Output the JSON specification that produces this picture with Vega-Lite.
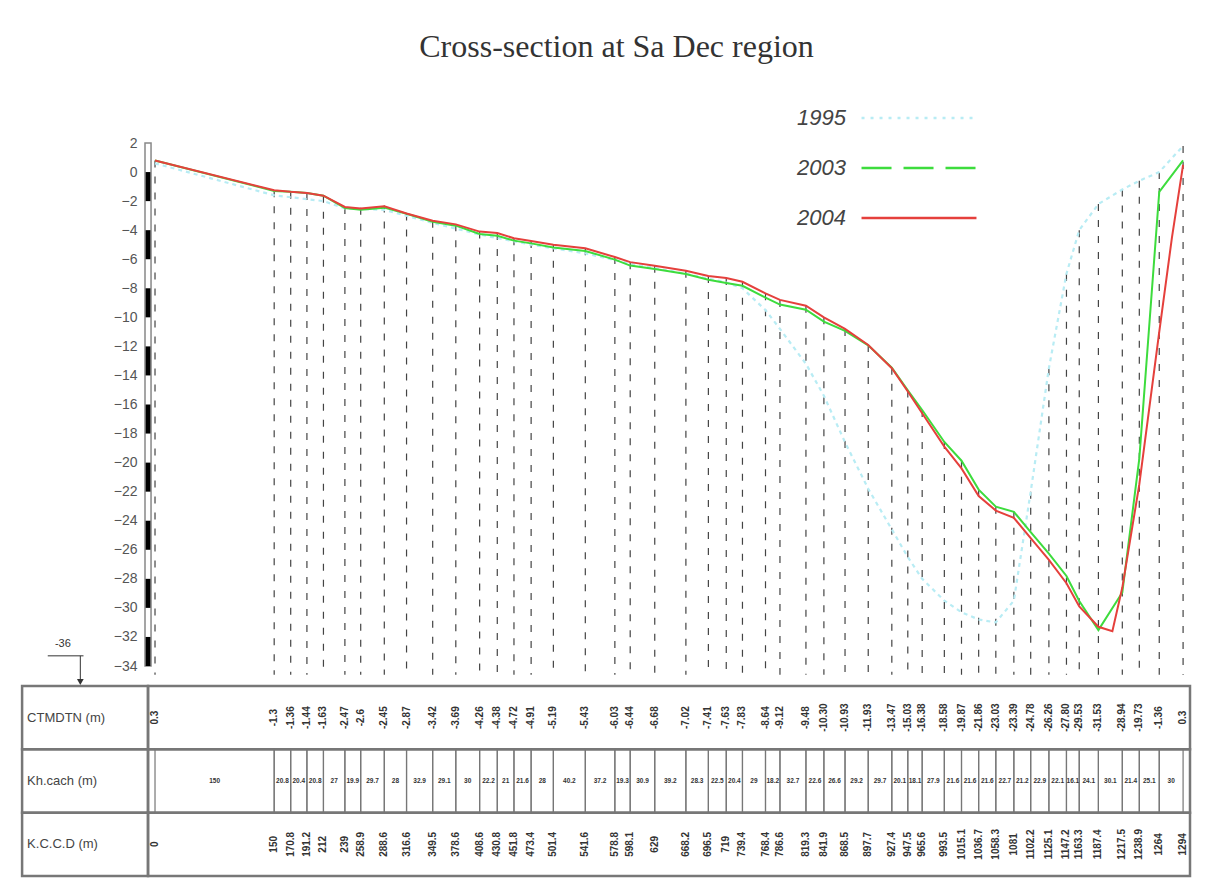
{
"$schema": "https://vega.github.io/schema/vega-lite/v6.json",
"width": 1045, "height": 733,
"autosize": {"type": "none"},
"padding": {"left": 145, "top": 143, "right": 24, "bottom": 2},
"background": "white",
"config": {"view": {"stroke": null}, "font": "Liberation Sans"},
"title": {"text": "Cross-section at Sa Dec region", "font": "Liberation Serif", "fontSize": 32, "fontWeight": "normal", "color": "#333", "anchor": "middle", "dx": -51, "offset": 38},
"datasets": {
"stations": [
{"d":0,"c":"0.3","k":"0","top":0.8},
{"d":150,"c":"-1.3","k":"150","top":-1.25},
{"d":170.8,"c":"-1.36","k":"170.8","top":-1.36},
{"d":191.2,"c":"-1.44","k":"191.2","top":-1.44},
{"d":212,"c":"-1.63","k":"212","top":-1.63},
{"d":239,"c":"-2.47","k":"239","top":-2.4},
{"d":258.9,"c":"-2.6","k":"258.9","top":-2.45},
{"d":288.6,"c":"-2.45","k":"288.6","top":-2.3},
{"d":316.6,"c":"-2.87","k":"316.6","top":-2.85},
{"d":349.5,"c":"-3.42","k":"349.5","top":-3.35},
{"d":378.6,"c":"-3.69","k":"378.6","top":-3.6},
{"d":408.6,"c":"-4.26","k":"408.6","top":-4.1},
{"d":430.8,"c":"-4.38","k":"430.8","top":-4.2},
{"d":451.8,"c":"-4.72","k":"451.8","top":-4.55},
{"d":473.4,"c":"-4.91","k":"473.4","top":-4.75},
{"d":501.4,"c":"-5.19","k":"501.4","top":-5.0},
{"d":541.6,"c":"-5.43","k":"541.6","top":-5.25},
{"d":578.8,"c":"-6.03","k":"578.8","top":-5.85},
{"d":598.1,"c":"-6.44","k":"598.1","top":-6.2},
{"d":629,"c":"-6.68","k":"629","top":-6.45},
{"d":668.2,"c":"-7.02","k":"668.2","top":-6.8},
{"d":696.5,"c":"-7.41","k":"696.5","top":-7.15},
{"d":719,"c":"-7.63","k":"719","top":-7.3},
{"d":739.4,"c":"-7.83","k":"739.4","top":-7.55},
{"d":768.4,"c":"-8.64","k":"768.4","top":-8.35},
{"d":786.6,"c":"-9.12","k":"786.6","top":-8.8},
{"d":819.3,"c":"-9.48","k":"819.3","top":-9.2},
{"d":841.9,"c":"-10.30","k":"841.9","top":-10.0},
{"d":868.5,"c":"-10.93","k":"868.5","top":-10.8},
{"d":897.7,"c":"-11.93","k":"897.7","top":-11.9},
{"d":927.4,"c":"-13.47","k":"927.4","top":-13.47},
{"d":947.5,"c":"-15.03","k":"947.5","top":-15.03},
{"d":965.6,"c":"-16.38","k":"965.6","top":-16.38},
{"d":993.5,"c":"-18.58","k":"993.5","top":-18.58},
{"d":1015.1,"c":"-19.87","k":"1015.1","top":-19.87},
{"d":1036.7,"c":"-21.86","k":"1036.7","top":-21.86},
{"d":1058.3,"c":"-23.03","k":"1058.3","top":-23.03},
{"d":1081,"c":"-23.39","k":"1081","top":-23.39},
{"d":1102.2,"c":"-24.78","k":"1102.2","top":-22},
{"d":1125.1,"c":"-26.26","k":"1125.1","top":-13.5},
{"d":1147.2,"c":"-27.80","k":"1147.2","top":-7},
{"d":1163.3,"c":"-29.53","k":"1163.3","top":-4},
{"d":1187.4,"c":"-31.53","k":"1187.4","top":-2.2},
{"d":1217.5,"c":"-28.94","k":"1217.5","top":-1.2},
{"d":1238.9,"c":"-19.73","k":"1238.9","top":-0.6},
{"d":1264,"c":"-1.36","k":"1264","top":0},
{"d":1294,"c":"0.3","k":"1294","top":1.8}
],
"spans": [
{"from":0,"to":150,"mid":75,"len":"150"},
{"from":150,"to":170.8,"mid":160.4,"len":"20.8"},
{"from":170.8,"to":191.2,"mid":181,"len":"20.4"},
{"from":191.2,"to":212,"mid":201.6,"len":"20.8"},
{"from":212,"to":239,"mid":225.5,"len":"27"},
{"from":239,"to":258.9,"mid":248.95,"len":"19.9"},
{"from":258.9,"to":288.6,"mid":273.75,"len":"29.7"},
{"from":288.6,"to":316.6,"mid":302.6,"len":"28"},
{"from":316.6,"to":349.5,"mid":333.05,"len":"32.9"},
{"from":349.5,"to":378.6,"mid":364.05,"len":"29.1"},
{"from":378.6,"to":408.6,"mid":393.6,"len":"30"},
{"from":408.6,"to":430.8,"mid":419.7,"len":"22.2"},
{"from":430.8,"to":451.8,"mid":441.3,"len":"21"},
{"from":451.8,"to":473.4,"mid":462.6,"len":"21.6"},
{"from":473.4,"to":501.4,"mid":487.4,"len":"28"},
{"from":501.4,"to":541.6,"mid":521.5,"len":"40.2"},
{"from":541.6,"to":578.8,"mid":560.2,"len":"37.2"},
{"from":578.8,"to":598.1,"mid":588.45,"len":"19.3"},
{"from":598.1,"to":629,"mid":613.55,"len":"30.9"},
{"from":629,"to":668.2,"mid":648.6,"len":"39.2"},
{"from":668.2,"to":696.5,"mid":682.35,"len":"28.3"},
{"from":696.5,"to":719,"mid":707.75,"len":"22.5"},
{"from":719,"to":739.4,"mid":729.2,"len":"20.4"},
{"from":739.4,"to":768.4,"mid":753.9,"len":"29"},
{"from":768.4,"to":786.6,"mid":777.5,"len":"18.2"},
{"from":786.6,"to":819.3,"mid":802.95,"len":"32.7"},
{"from":819.3,"to":841.9,"mid":830.6,"len":"22.6"},
{"from":841.9,"to":868.5,"mid":855.2,"len":"26.6"},
{"from":868.5,"to":897.7,"mid":883.1,"len":"29.2"},
{"from":897.7,"to":927.4,"mid":912.55,"len":"29.7"},
{"from":927.4,"to":947.5,"mid":937.45,"len":"20.1"},
{"from":947.5,"to":965.6,"mid":956.55,"len":"18.1"},
{"from":965.6,"to":993.5,"mid":979.55,"len":"27.9"},
{"from":993.5,"to":1015.1,"mid":1004.3,"len":"21.6"},
{"from":1015.1,"to":1036.7,"mid":1025.9,"len":"21.6"},
{"from":1036.7,"to":1058.3,"mid":1047.5,"len":"21.6"},
{"from":1058.3,"to":1081,"mid":1069.65,"len":"22.7"},
{"from":1081,"to":1102.2,"mid":1091.6,"len":"21.2"},
{"from":1102.2,"to":1125.1,"mid":1113.65,"len":"22.9"},
{"from":1125.1,"to":1147.2,"mid":1136.15,"len":"22.1"},
{"from":1147.2,"to":1163.3,"mid":1155.25,"len":"16.1"},
{"from":1163.3,"to":1187.4,"mid":1175.35,"len":"24.1"},
{"from":1187.4,"to":1217.5,"mid":1202.45,"len":"30.1"},
{"from":1217.5,"to":1238.9,"mid":1228.2,"len":"21.4"},
{"from":1238.9,"to":1264,"mid":1251.45,"len":"25.1"},
{"from":1264,"to":1294,"mid":1279,"len":"30"}
],
"rows": [{"row":"CTMDTN (m)"},{"row":"Kh.cach (m)"},{"row":"K.C.C.D (m)"}],
"bar": [{"a":0,"b":-2},{"a":-4,"b":-6},{"a":-8,"b":-10},{"a":-12,"b":-14},{"a":-16,"b":-18},{"a":-20,"b":-22},{"a":-24,"b":-26},{"a":-28,"b":-30},{"a":-32,"b":-34}],
"profiles": [
{"year":"1995","d":0,"z":0.6},{"year":"1995","d":150,"z":-1.6},{"year":"1995","d":212,"z":-2.0},{"year":"1995","d":239,"z":-2.5},{"year":"1995","d":288.6,"z":-2.6},{"year":"1995","d":349.5,"z":-3.5},{"year":"1995","d":408.6,"z":-4.3},{"year":"1995","d":473.4,"z":-5.0},{"year":"1995","d":541.6,"z":-5.6},{"year":"1995","d":598.1,"z":-6.3},{"year":"1995","d":668.2,"z":-7.0},{"year":"1995","d":719,"z":-7.6},{"year":"1995","d":739.4,"z":-8.0},{"year":"1995","d":768.4,"z":-9.5},{"year":"1995","d":786.6,"z":-10.8},{"year":"1995","d":819.3,"z":-13.2},{"year":"1995","d":841.9,"z":-15.4},{"year":"1995","d":868.5,"z":-18.6},{"year":"1995","d":897.7,"z":-21.8},{"year":"1995","d":927.4,"z":-24.6},{"year":"1995","d":947.5,"z":-26.5},{"year":"1995","d":965.6,"z":-28.0},{"year":"1995","d":993.5,"z":-29.5},{"year":"1995","d":1015.1,"z":-30.3},{"year":"1995","d":1036.7,"z":-30.8},{"year":"1995","d":1058.3,"z":-31.0},{"year":"1995","d":1081,"z":-29.5},{"year":"1995","d":1102.2,"z":-22.0},{"year":"1995","d":1125.1,"z":-13.5},{"year":"1995","d":1147.2,"z":-7.0},{"year":"1995","d":1163.3,"z":-4.0},{"year":"1995","d":1187.4,"z":-2.2},{"year":"1995","d":1217.5,"z":-1.2},{"year":"1995","d":1238.9,"z":-0.6},{"year":"1995","d":1264,"z":0.0},{"year":"1995","d":1294,"z":1.8},
{"year":"2003","d":0,"z":0.8},{"year":"2003","d":150,"z":-1.3},{"year":"2003","d":170.8,"z":-1.36},{"year":"2003","d":191.2,"z":-1.44},{"year":"2003","d":212,"z":-1.63},{"year":"2003","d":239,"z":-2.47},{"year":"2003","d":258.9,"z":-2.6},{"year":"2003","d":288.6,"z":-2.45},{"year":"2003","d":316.6,"z":-2.87},{"year":"2003","d":349.5,"z":-3.42},{"year":"2003","d":378.6,"z":-3.69},{"year":"2003","d":408.6,"z":-4.26},{"year":"2003","d":430.8,"z":-4.38},{"year":"2003","d":451.8,"z":-4.72},{"year":"2003","d":473.4,"z":-4.91},{"year":"2003","d":501.4,"z":-5.19},{"year":"2003","d":541.6,"z":-5.43},{"year":"2003","d":578.8,"z":-6.03},{"year":"2003","d":598.1,"z":-6.44},{"year":"2003","d":629,"z":-6.68},{"year":"2003","d":668.2,"z":-7.02},{"year":"2003","d":696.5,"z":-7.41},{"year":"2003","d":719,"z":-7.63},{"year":"2003","d":739.4,"z":-7.83},{"year":"2003","d":768.4,"z":-8.64},{"year":"2003","d":786.6,"z":-9.12},{"year":"2003","d":819.3,"z":-9.48},{"year":"2003","d":841.9,"z":-10.3},{"year":"2003","d":868.5,"z":-10.93},{"year":"2003","d":897.7,"z":-11.93},{"year":"2003","d":927.4,"z":-13.47},{"year":"2003","d":947.5,"z":-15.03},{"year":"2003","d":965.6,"z":-16.38},{"year":"2003","d":993.5,"z":-18.58},{"year":"2003","d":1015.1,"z":-19.87},{"year":"2003","d":1036.7,"z":-21.86},{"year":"2003","d":1058.3,"z":-23.03},{"year":"2003","d":1081,"z":-23.39},{"year":"2003","d":1102.2,"z":-24.78},{"year":"2003","d":1125.1,"z":-26.26},{"year":"2003","d":1147.2,"z":-27.8},{"year":"2003","d":1163.3,"z":-29.53},{"year":"2003","d":1187.4,"z":-31.53},{"year":"2003","d":1217.5,"z":-28.94},{"year":"2003","d":1238.9,"z":-19.73},{"year":"2003","d":1264,"z":-1.36},{"year":"2003","d":1294,"z":0.8},
{"year":"2004","d":0,"z":0.8},{"year":"2004","d":150,"z":-1.25},{"year":"2004","d":170.8,"z":-1.36},{"year":"2004","d":191.2,"z":-1.44},{"year":"2004","d":212,"z":-1.63},{"year":"2004","d":239,"z":-2.4},{"year":"2004","d":258.9,"z":-2.5},{"year":"2004","d":288.6,"z":-2.35},{"year":"2004","d":316.6,"z":-2.85},{"year":"2004","d":349.5,"z":-3.35},{"year":"2004","d":378.6,"z":-3.6},{"year":"2004","d":408.6,"z":-4.1},{"year":"2004","d":430.8,"z":-4.2},{"year":"2004","d":451.8,"z":-4.55},{"year":"2004","d":473.4,"z":-4.75},{"year":"2004","d":501.4,"z":-5.0},{"year":"2004","d":541.6,"z":-5.25},{"year":"2004","d":578.8,"z":-5.85},{"year":"2004","d":598.1,"z":-6.2},{"year":"2004","d":629,"z":-6.45},{"year":"2004","d":668.2,"z":-6.8},{"year":"2004","d":696.5,"z":-7.15},{"year":"2004","d":719,"z":-7.3},{"year":"2004","d":739.4,"z":-7.55},{"year":"2004","d":768.4,"z":-8.35},{"year":"2004","d":786.6,"z":-8.8},{"year":"2004","d":819.3,"z":-9.2},{"year":"2004","d":841.9,"z":-10.0},{"year":"2004","d":868.5,"z":-10.8},{"year":"2004","d":897.7,"z":-11.9},{"year":"2004","d":927.4,"z":-13.5},{"year":"2004","d":947.5,"z":-15.1},{"year":"2004","d":965.6,"z":-16.6},{"year":"2004","d":993.5,"z":-18.9},{"year":"2004","d":1015.1,"z":-20.4},{"year":"2004","d":1036.7,"z":-22.3},{"year":"2004","d":1058.3,"z":-23.3},{"year":"2004","d":1081,"z":-23.8},{"year":"2004","d":1102.2,"z":-25.2},{"year":"2004","d":1125.1,"z":-26.7},{"year":"2004","d":1147.2,"z":-28.3},{"year":"2004","d":1163.3,"z":-29.9},{"year":"2004","d":1187.4,"z":-31.3},{"year":"2004","d":1205,"z":-31.6},{"year":"2004","d":1217.5,"z":-28.6},{"year":"2004","d":1238.9,"z":-21.5},{"year":"2004","d":1264,"z":-11.0},{"year":"2004","d":1280,"z":-4.5},{"year":"2004","d":1294,"z":0.5}
]
},
"layer": [
{"layer": [
 {"data": {"values": [{}]},
  "mark": {"type": "rect", "fill": "white", "stroke": "#888", "strokeWidth": 1.5},
  "encoding": {
   "x": {"datum": -12.6, "type": "quantitative", "scale": {"domain": [-12.6, 1302.7], "nice": false, "zero": false}, "axis": null},
   "x2": {"datum": -5},
   "y": {"datum": 2, "type": "quantitative", "scale": {"domain": [-34, 2], "range": [523, 0], "nice": false, "zero": false},
     "axis": {"title": null, "values": [2,0,-2,-4,-6,-8,-10,-12,-14,-16,-18,-20,-22,-24,-26,-28,-30,-32,-34], "domain": false, "ticks": false, "grid": false, "labelFont": "Liberation Sans", "labelFontSize": 14, "labelColor": "#555", "labelPadding": 8, "labelFlush": false}},
   "y2": {"datum": -34}
  }
 },
 {"data": {"name": "bar"},
  "mark": {"type": "rect", "fill": "black"},
  "encoding": {
   "x": {"datum": -11.8, "type": "quantitative", "scale": {"domain": [-12.6, 1302.7]}, "axis": null},
   "x2": {"datum": -5.8},
   "y": {"field": "a", "type": "quantitative", "axis": {"title": null}},
   "y2": {"field": "b"}
  }
 },
 {"data": {"name": "stations"},
  "mark": {"type": "rule", "stroke": "#444", "strokeWidth": 1.2, "strokeDash": [7, 9]},
  "encoding": {
   "x": {"field": "d", "type": "quantitative", "scale": {"domain": [-12.6, 1302.7]}, "axis": null},
   "y": {"field": "top", "type": "quantitative", "axis": {"title": null}},
   "y2": {"datum": -34.6}
  }
 },
 {"data": {"name": "profiles"},
  "transform": [{"filter": "datum.year === '1995'"}],
  "mark": {"type": "line", "strokeWidth": 2.2, "strokeDash": [4, 4]},
  "encoding": {
   "x": {"field": "d", "type": "quantitative", "scale": {"domain": [-12.6, 1302.7]}, "axis": null},
   "y": {"field": "z", "type": "quantitative", "axis": {"title": null}},
   "color": {
     "field": "year", "type": "nominal",
     "scale": {"domain": ["1995", "2003", "2004"], "range": ["#b8ecf4", "#3ddc3d", "#e5403c"]},
     "legend": {
       "orient": "none", "legendX": 758, "legendY": -41, "title": null,
       "symbolType": "M-4,0H4", "symbolSize": 826, "symbolStrokeWidth": 2.5,
       "labelFont": "Liberation Sans", "labelFontStyle": "italic", "labelFontSize": 22, "labelColor": "#444",
       "labelAlign": "right", "labelOffset": -89, "rowPadding": 23,
       "encode": {
         "symbols": {
           "update": {
             "strokeDash": {"signal": "datum.value === '1995' ? [3,6] : datum.value === '2003' ? [30,12] : [1,0]"}
           }
         }
       }
     }
   }
  }
 },
 {"data": {"name": "profiles"},
  "transform": [{"filter": "datum.year !== '1995'"}],
  "mark": {"type": "line", "strokeWidth": 2},
  "encoding": {
   "x": {"field": "d", "type": "quantitative", "scale": {"domain": [-12.6, 1302.7]}, "axis": null},
   "y": {"field": "z", "type": "quantitative", "axis": {"title": null}},
   "color": {"field": "year", "type": "nominal"}
  }
 },
 {"data": {"values": [{"t": "-36"}]},
  "mark": {"type": "text", "fontSize": 11, "color": "#333"},
  "encoding": {
   "x": {"datum": -116, "type": "quantitative", "scale": {"domain": [-12.6, 1302.7]}, "axis": null},
   "y": {"datum": -32.5, "type": "quantitative", "axis": {"title": null}},
   "text": {"field": "t"}
  }
 },
 {"data": {"values": [{}]},
  "mark": {"type": "rule", "stroke": "#333", "strokeWidth": 1},
  "encoding": {
   "x": {"datum": -135, "type": "quantitative", "scale": {"domain": [-12.6, 1302.7]}, "axis": null},
   "x2": {"datum": -90},
   "y": {"datum": -33.3, "type": "quantitative", "axis": {"title": null}}
  }
 },
 {"data": {"values": [{}]},
  "mark": {"type": "rule", "stroke": "#333", "strokeWidth": 1},
  "encoding": {
   "x": {"datum": -94, "type": "quantitative", "scale": {"domain": [-12.6, 1302.7]}, "axis": null},
   "y": {"datum": -33.3, "type": "quantitative", "axis": {"title": null}},
   "y2": {"datum": -35.1}
  }
 },
 {"data": {"values": [{}]},
  "mark": {"type": "point", "shape": "triangle-down", "filled": true, "color": "#333", "size": 45, "opacity": 1},
  "encoding": {
   "x": {"datum": -94, "type": "quantitative", "scale": {"domain": [-12.6, 1302.7]}, "axis": null},
   "y": {"datum": -35.1, "type": "quantitative", "axis": {"title": null}}
  }
 }
]},
{"layer": [
 {"data": {"name": "rows"},
  "mark": {"type": "rect", "fillOpacity": 0, "stroke": "#777", "strokeWidth": 2.5},
  "encoding": {
   "x": {"datum": -167.3, "type": "quantitative", "scale": {"domain": [-12.6, 1302.7]}, "axis": null},
   "x2": {"datum": -8.8},
   "y": {"field": "row", "type": "nominal", "scale": {"type": "band", "domain": ["CTMDTN (m)", "Kh.cach (m)", "K.C.C.D (m)"], "range": [543, 733], "paddingInner": 0, "paddingOuter": 0}, "axis": null}
  }
 },
 {"data": {"name": "rows"},
  "mark": {"type": "rect", "fillOpacity": 0, "stroke": "#777", "strokeWidth": 2.5},
  "encoding": {
   "x": {"datum": -8.8, "type": "quantitative", "scale": {"domain": [-12.6, 1302.7]}, "axis": null},
   "x2": {"datum": 1302.7},
   "y": {"field": "row", "type": "nominal", "axis": null}
  }
 },
 {"data": {"name": "rows"},
  "mark": {"type": "text", "align": "left", "fontSize": 13, "font": "Liberation Sans", "color": "#444"},
  "encoding": {
   "x": {"datum": -161, "type": "quantitative", "scale": {"domain": [-12.6, 1302.7]}, "axis": null},
   "y": {"field": "row", "type": "nominal", "axis": null},
   "text": {"field": "row"}
  }
 },
 {"data": {"name": "spans"},
  "mark": {"type": "rect", "fillOpacity": 0, "stroke": "#777", "strokeWidth": 1.2},
  "encoding": {
   "x": {"field": "from", "type": "quantitative", "scale": {"domain": [-12.6, 1302.7]}, "axis": null},
   "x2": {"field": "to"},
   "y": {"datum": "Kh.cach (m)", "type": "nominal", "axis": null}
  }
 },
 {"data": {"name": "spans"},
  "mark": {"type": "text", "fontSize": 6.5, "fontWeight": "bold", "font": "Liberation Sans", "color": "#333"},
  "encoding": {
   "x": {"field": "mid", "type": "quantitative", "scale": {"domain": [-12.6, 1302.7]}, "axis": null},
   "y": {"datum": "Kh.cach (m)", "type": "nominal", "axis": null},
   "text": {"field": "len"}
  }
 },
 {"data": {"name": "stations"},
  "mark": {"type": "text", "angle": 270, "fontSize": 10, "fontWeight": "bold", "font": "Liberation Sans", "color": "#333"},
  "encoding": {
   "x": {"field": "d", "type": "quantitative", "scale": {"domain": [-12.6, 1302.7]}, "axis": null},
   "y": {"datum": "CTMDTN (m)", "type": "nominal", "axis": null},
   "text": {"field": "c"}
  }
 },
 {"data": {"name": "stations"},
  "mark": {"type": "text", "angle": 270, "fontSize": 10, "fontWeight": "bold", "font": "Liberation Sans", "color": "#333"},
  "encoding": {
   "x": {"field": "d", "type": "quantitative", "scale": {"domain": [-12.6, 1302.7]}, "axis": null},
   "y": {"datum": "K.C.C.D (m)", "type": "nominal", "axis": null},
   "text": {"field": "k"}
  }
 }
]}
],
"resolve": {"scale": {"y": "independent"}}
}
